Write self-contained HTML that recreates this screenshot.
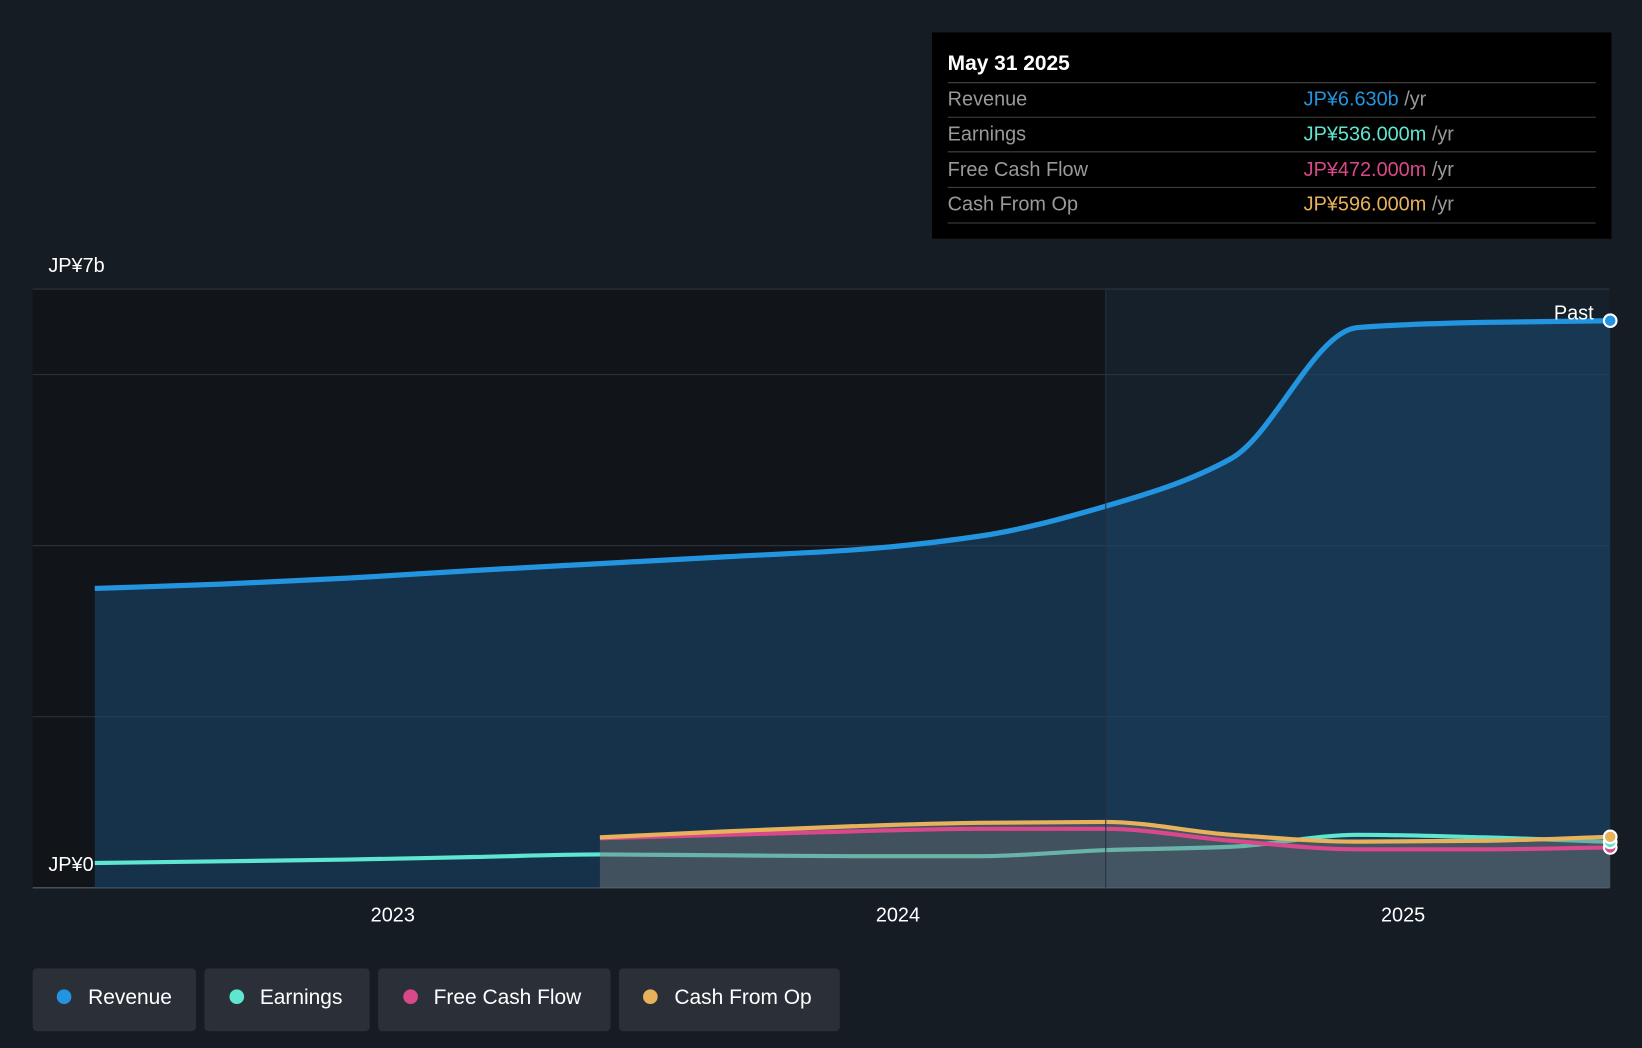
<!DOCTYPE html>
<html><head><meta charset="utf-8">
<style>
html,body{margin:0;padding:0;background:#161c24;overflow:hidden}
svg{display:block}
text{font-family:"Liberation Sans",sans-serif}
</style></head>
<body>
<svg id="chart" width="1642" height="1048" viewBox="0 0 1568 1001" xmlns="http://www.w3.org/2000/svg">
<rect x="0" y="0" width="1568" height="1001" fill="#161c24"/>
<rect x="31" y="276" width="1025" height="572" fill="#111419"/>
<rect x="1056" y="276" width="481" height="572" fill="#15202b"/>
<g id="grid"></g>
<g id="series"></g>
<line x1="1056" y1="276" x2="1056" y2="848" stroke="#24323f" stroke-width="1"/>
<text x="46" y="260" fill="#fff" font-size="19">JP¥7b</text>
<text x="46" y="832" fill="#fff" font-size="19">JP¥0</text>
<text x="1522" y="305" fill="#fff" font-size="19" text-anchor="end">Past</text>
<g id="xticks"></g>

<g>
<rect x="890" y="31" width="649" height="197" fill="#000"/>
<text x="905" y="67" fill="#fff" font-size="20" font-weight="bold">May 31 2025</text>
<line x1="905" y1="79" x2="1524" y2="79" stroke="#444"/>
<text x="905" y="101" fill="#999" font-size="19">Revenue</text>
<text x="1245" y="101" font-size="19"><tspan fill="#2394df">JP¥6.630b</tspan><tspan fill="#999"> /yr</tspan></text>
<line x1="905" y1="112" x2="1524" y2="112" stroke="#444"/>
<text x="905" y="134" fill="#999" font-size="19">Earnings</text>
<text x="1245" y="134" font-size="19"><tspan fill="#5ee6d0">JP¥536.000m</tspan><tspan fill="#999"> /yr</tspan></text>
<line x1="905" y1="145" x2="1524" y2="145" stroke="#444"/>
<text x="905" y="168" fill="#999" font-size="19">Free Cash Flow</text>
<text x="1245" y="168" font-size="19"><tspan fill="#d9488a">JP¥472.000m</tspan><tspan fill="#999"> /yr</tspan></text>
<line x1="905" y1="179" x2="1524" y2="179" stroke="#444"/>
<text x="905" y="201" fill="#999" font-size="19">Cash From Op</text>
<text x="1245" y="201" font-size="19"><tspan fill="#e8b25c">JP¥596.000m</tspan><tspan fill="#999"> /yr</tspan></text>
<line x1="905" y1="213" x2="1524" y2="213" stroke="#444"/>
</g>

<g>
<g><rect x="31" y="925" width="156" height="60" rx="4" fill="#2a2f38"/><circle cx="61" cy="952" r="7" fill="#2394df"/><text x="84" y="959" fill="#fff" font-size="20">Revenue</text></g>
<g><rect x="195" y="925" width="158" height="60" rx="4" fill="#2a2f38"/><circle cx="226" cy="952" r="7" fill="#5ee6d0"/><text x="248" y="959" fill="#fff" font-size="20">Earnings</text></g>
<g><rect x="361" y="925" width="222" height="60" rx="4" fill="#2a2f38"/><circle cx="392" cy="952" r="7" fill="#d9488a"/><text x="414" y="959" fill="#fff" font-size="20">Free Cash Flow</text></g>
<g><rect x="591" y="925" width="211" height="60" rx="4" fill="#2a2f38"/><circle cx="621" cy="952" r="7" fill="#e8b25c"/><text x="644" y="959" fill="#fff" font-size="20">Cash From Op</text></g>
</g>
</svg>
<script>
const times = [2022.41,2022.66,2022.91,2023.16,2023.41,2023.66,2023.91,2024.16,2024.41,2024.66,2024.91,2025.16,2025.41];
const revenue = [3.50,3.55,3.62,3.71,3.79,3.87,3.95,4.11,4.46,5.02,6.55,6.61,6.63];
const earnings = [0.29,0.31,0.33,0.36,0.39,0.38,0.37,0.37,0.44,0.48,0.62,0.59,0.536];
const fcf = [null,null,null,null,0.58,0.62,0.66,0.69,0.69,0.55,0.45,0.45,0.472];
const cfo = [null,null,null,null,0.59,0.66,0.72,0.76,0.77,0.62,0.54,0.55,0.596];
const yTicks = [0,2,4,6,7];
const xTicks = [2023,2024,2025];

const NS="http://www.w3.org/2000/svg";
const X = t => 375 + (t-2023)*482.5;
const Y = v => 848 - v*81.7;
function el(tag,attrs,parent){const e=document.createElementNS(NS,tag);for(const k in attrs)e.setAttribute(k,attrs[k]);parent.appendChild(e);return e;}
function pts(arr){const p=[];arr.forEach((v,i)=>{if(v!==null)p.push([X(times[i]),Y(v)]);});return p;}
function curve(p){
  const n=p.length,d=[],m=new Array(n);
  for(let i=0;i<n-1;i++)d.push((p[i+1][1]-p[i][1])/(p[i+1][0]-p[i][0]));
  m[0]=d[0];m[n-1]=d[n-2];
  for(let i=1;i<n-1;i++){ if(d[i-1]*d[i]<=0)m[i]=0; else { m[i]=2/(1/d[i-1]+1/d[i]); } }
  let s="M"+p[0][0]+","+p[0][1];
  for(let i=0;i<n-1;i++){const h=(p[i+1][0]-p[i][0])/3;
    s+=" C"+(p[i][0]+h)+","+(p[i][1]+m[i]*h)+" "+(p[i+1][0]-h)+","+(p[i+1][1]-m[i+1]*h)+" "+p[i+1][0]+","+p[i+1][1];}
  return s;}
const grid=document.getElementById('grid');
yTicks.forEach(v=>{const l=el('line',{x1:31,x2:1537,y1:Y(v),y2:Y(v),stroke:v===0?'#5a6270':'#2e3440','stroke-width':1},grid);

});
const xt=document.getElementById('xticks');
xTicks.forEach(t=>{const tx=el('text',{x:X(t),y:880,fill:'#fff','font-size':19,'text-anchor':'middle'},xt);tx.textContent=t;

});
const s=document.getElementById('series');
const rp=pts(revenue),rd=curve(rp);
const rf=el('path',{d:rd+" L"+rp[rp.length-1][0]+",848 L"+rp[0][0]+",848 Z",fill:'#1c4a72','fill-opacity':0.55},s);


const rl=el('path',{d:rd,fill:'none',stroke:'#2394df','stroke-width':5},s);


const ep=pts(earnings);
const el1=el('path',{d:curve(ep),fill:'none',stroke:'#5ee6d0','stroke-width':4},s);


const cp=pts(cfo),cd=curve(cp);
const cf=el('path',{d:cd+" L"+cp[cp.length-1][0]+",848 L"+cp[0][0]+",848 Z",fill:'#777','fill-opacity':0.45},s);


const fp=pts(fcf);
const fl=el('path',{d:curve(fp),fill:'none',stroke:'#d9488a','stroke-width':4},s);


const cl=el('path',{d:cd,fill:'none',stroke:'#e8b25c','stroke-width':4},s);


[[fp,'#d9488a','fcf'],[ep,'#5ee6d0','earnings'],[cp,'#e8b25c','cfo'],[rp,'#2394df','revenue']].forEach(([p,c,n])=>{const last=p[p.length-1];
const d=el('circle',{cx:last[0],cy:last[1],r:6,fill:c,stroke:'#fff','stroke-width':2},s);

});
</script>
</body></html>
